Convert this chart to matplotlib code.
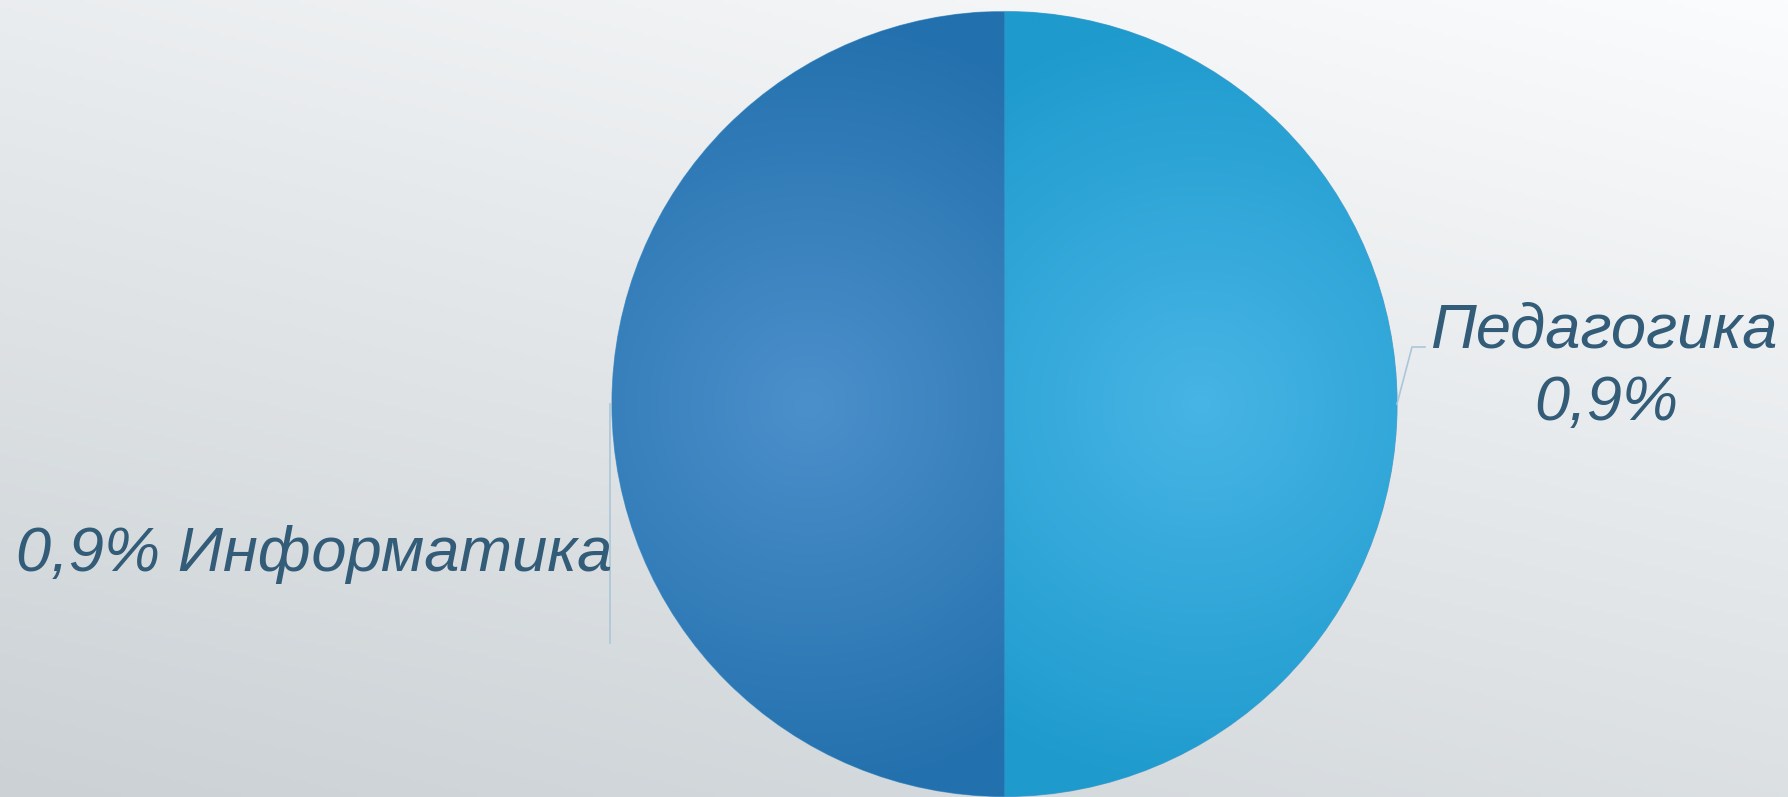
import matplotlib.pyplot as plt
import numpy as np
from matplotlib.colors import LinearSegmentedColormap

labels = ['Педагогика', 'Информатика']
values = [0.9, 0.9]
edge_colors = ['#1e9acd', '#2270ad']
center_colors = ['#47b5e5', '#4c90cb']

text_color = '#335c78'
line_color = '#aac6d8'


def background(fig):
    bg = fig.add_axes([0, 0, 1, 1], zorder=-1)
    h, w = 200, 400
    yy, xx = np.mgrid[0:1:h * 1j, 0:1:w * 1j]
    # top right bright, bottom left dark
    t = np.clip(0.65 * yy + 0.35 * xx, 0, 1)
    c0 = np.array([0xcb, 0xd1, 0xd5]) / 255
    c1 = np.array([0xfb, 0xfc, 0xfd]) / 255
    img = c0 + (c1 - c0) * t[..., None]
    bg.imshow(img, extent=[0, 1, 0, 1], aspect='auto', origin='lower')
    bg.axis('off')


def shade_wedge(ax, wedge, c_edge, c_center):
    x0, y0, x1, y1 = wedge.get_window_extent().transformed(ax.transData.inverted()).extents
    cx, cy = (x0 + x1) / 2, (y0 + y1) / 2
    r = max(x1 - x0, y1 - y0) / 2
    yy, xx = np.mgrid[y0:y1:300j, x0:x1:300j]
    d = np.clip(np.hypot(xx - cx, yy - cy) / r, 0, 1)
    cmap = LinearSegmentedColormap.from_list('w', [c_center, c_edge])
    im = ax.imshow(d, cmap=cmap, extent=[x0, x1, y0, y1], origin='lower', vmin=0, vmax=1, zorder=2)
    im.set_clip_path(wedge)


def main():
    W, H = 1788, 797
    fig = plt.figure(figsize=(W / 100, H / 100), dpi=100)
    background(fig)
    ax = fig.add_axes([0, 0, 1, 1])
    ax.patch.set_alpha(0)

    cx, cy, r = 1004.5, H - 404, 392.5
    wedges, _ = ax.pie(values, colors=edge_colors, startangle=90, counterclock=False,
                       center=(cx, cy), radius=r,
                       wedgeprops=dict(edgecolor='#5fa3cf', linewidth=0.8))
    ax.set_xlim(0, W)
    ax.set_ylim(0, H)
    ax.set_aspect('equal')
    ax.axis('off')
    fig.canvas.draw()
    for wg, ce, cc in zip(wedges, edge_colors, center_colors):
        shade_wedge(ax, wg, ce, cc)
    ax.set_xlim(0, W)
    ax.set_ylim(0, H)

    font = dict(family=['Liberation Sans', 'DejaVu Sans'], style='italic', fontsize=45.5, color=text_color)

    # Педагогика: leader from the right edge of the pie
    ang = np.deg2rad(0)
    ex, ey = cx + r * np.cos(ang), cy + r * np.sin(ang)
    ax.plot([ex, ex + 15, ex + 28], [ey, ey + 57, ey + 57], color=line_color, lw=1.2, zorder=3)
    ax.text(1604, H - 347, labels[0], ha='center', va='baseline', **font)
    ax.text(1606, H - 420, f'{values[0]:.1f}%'.replace('.', ','), ha='center', va='baseline', **font)

    # Информатика: leader from the left edge of the pie
    ang = np.deg2rad(180)
    ex, ey = cx + r * np.cos(ang), cy + r * np.sin(ang)
    ax.plot([ex - 2, ex - 2], [ey, ey - 239], color=line_color, lw=1.2, zorder=3)
    ax.text(612, H - 571, f'{values[1]:.1f}%'.replace('.', ',') + ' ' + labels[1],
            ha='right', va='baseline', **font)

    fig.savefig('out.png', dpi=100)


if __name__ == '__main__':
    main()
